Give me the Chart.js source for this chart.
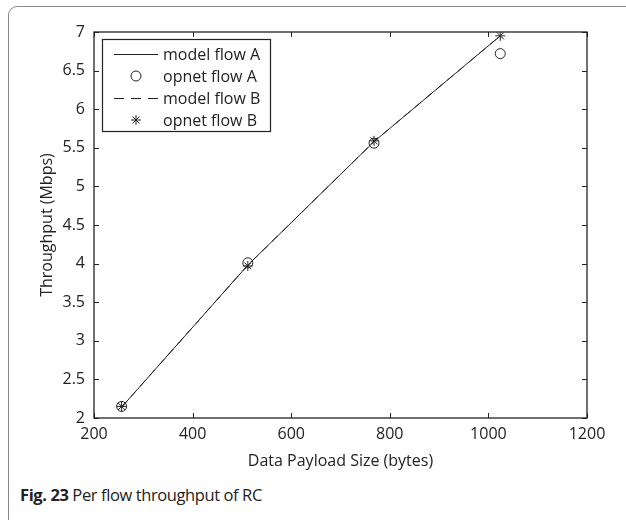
<!DOCTYPE html>
<html>
<head>
<meta charset="utf-8">
<script src="https://cdn.jsdelivr.net/npm/chart.js@4"></script>
<style>
  html, body { margin: 0; padding: 0; background: #fff; overflow: hidden; width: 626px; height: 520px; }
  #frame { position: absolute; left: 8px; top: 6px; width: 700px; height: 600px; border: 1.5px solid #8a8a8a; border-radius: 9px; z-index: 10; pointer-events: none; box-sizing: border-box; }
  #wrap { position: absolute; left: 0; top: 0; width: 626px; height: 475px; }
  #cap { position: absolute; left: 20px; top: 483px; font-family: "Open Sans", sans-serif; font-size: 16.5px; color: #222; letter-spacing: -0.4px; }
  #cap b { font-weight: 700; }
</style>
</head>
<body>
<div id="wrap"><canvas id="c" width="626" height="475"></canvas></div>
<div id="cap"><b>Fig. 23</b> Per flow throughput of RC</div>
<div id="frame"></div>
<script>
const payload = [256, 512, 768, 1024];
const modelA = [2.14, 3.98, 5.58, 6.95];
const opnetA = [2.15, 4.01, 5.56, 6.72];
const modelB = [2.14, 3.98, 5.58, 6.95];
const opnetB = [2.15, 3.97, 5.59, 6.95];
const xTicks = [200, 400, 600, 800, 1000, 1200];
const yTicks = [2, 2.5, 3, 3.5, 4, 4.5, 5, 5.5, 6, 6.5, 7];
const legendLabels = ['model flow A', 'opnet flow A', 'model flow B', 'opnet flow B'];

const FONT = '"Open Sans", sans-serif';
const pts = (arr) => payload.map((x, i) => ({x, y: arr[i]}));

const boxTicks = {
  id: 'boxTicks',
  afterDraw(chart) {
    const ctx = chart.ctx, a = chart.chartArea;
    const xs = chart.scales.x, ys = chart.scales.y;
    ctx.save();
    ctx.strokeStyle = '#222';
    ctx.lineWidth = 1.3;
    ctx.strokeRect(a.left, a.top, a.right - a.left, a.bottom - a.top);
    ctx.lineWidth = 1;
    const L = 5;
    xTicks.forEach(v => {
      const p = Math.round(xs.getPixelForValue(v)) + 0.5;
      ctx.beginPath();
      ctx.moveTo(p, a.bottom); ctx.lineTo(p, a.bottom - L);
      ctx.moveTo(p, a.top); ctx.lineTo(p, a.top + L);
      ctx.stroke();
    });
    yTicks.forEach(v => {
      const p = Math.round(ys.getPixelForValue(v)) + 0.5;
      ctx.beginPath();
      ctx.moveTo(a.left, p); ctx.lineTo(a.left + L, p);
      ctx.moveTo(a.right, p); ctx.lineTo(a.right - L, p);
      ctx.stroke();
    });
    // legend
    const lx = a.left + 8, ly = a.top + 7, lw = 168, lh = 92;
    ctx.fillStyle = '#fff';
    ctx.fillRect(lx, ly, lw, lh);
    ctx.strokeStyle = '#222';
    ctx.lineWidth = 1.2;
    ctx.strokeRect(lx + 0.5, ly + 0.5, lw, lh);
    ctx.font = '16px ' + FONT;
    ctx.textBaseline = 'middle';
    ctx.textAlign = 'left';
    chart.data.datasets.forEach((ds, i) => {
      const cy = ly + 15 + i * 22;
      const x0 = lx + 12, x1 = lx + 56;
      ctx.strokeStyle = '#222';
      if (ds.showLine) {
        ctx.lineWidth = 1;
        ctx.setLineDash(ds.borderDash ? [10, 7] : []);
        ctx.beginPath(); ctx.moveTo(x0, cy + 0.5); ctx.lineTo(x1, cy + 0.5); ctx.stroke();
        ctx.setLineDash([]);
      } else {
        ctx.fillStyle = ds.backgroundColor;
        ctx.lineWidth = 1;
        Chart.helpers.drawPoint(ctx, {pointStyle: ds.pointStyle, radius: ds.pointRadius, borderWidth: 1, rotation: 0}, (x0 + x1) / 2, cy);
      }
      ctx.fillStyle = '#222';
      ctx.fillText(legendLabels[i], x1 + 5, cy + 1);
    });
    ctx.restore();
  }
};

new Chart(document.getElementById('c'), {
  type: 'scatter',
  data: {
    datasets: [
      { label: legendLabels[0], data: pts(modelA), showLine: true, borderColor: '#222', borderWidth: 1, pointRadius: 0, fill: false },
      { label: legendLabels[1], data: pts(opnetA), showLine: false, pointStyle: 'circle', pointRadius: 5, borderColor: '#222', backgroundColor: 'rgba(0,0,0,0)', pointBorderWidth: 1 },
      { label: legendLabels[2], data: pts(modelB), showLine: true, borderDash: [8, 6], borderColor: '#222', borderWidth: 1, pointRadius: 0, fill: false },
      { label: legendLabels[3], data: pts(opnetB), showLine: false, pointStyle: 'star', pointRadius: 5, borderColor: '#222', backgroundColor: '#222', pointBorderWidth: 1 }
    ]
  },
  options: {
    responsive: false,
    animation: false,
    layout: { padding: { top: 32, right: 39, left: 34, bottom: 0 } },
    plugins: { legend: { display: false }, tooltip: { enabled: false } },
    scales: {
      x: {
        type: 'linear', min: 200, max: 1200,
        afterBuildTicks: (s) => { s.ticks = xTicks.map(v => ({value: v})); },
        afterFit: (s) => { s.height = 57; },
        grid: { display: false, drawTicks: false },
        border: { display: false },
        ticks: { color: '#222', font: { family: FONT, size: 16 }, padding: 7, maxRotation: 0, callback: (v) => String(v) },
        title: { display: true, text: 'Data Payload Size (bytes)', color: '#222', font: { family: FONT, size: 16 }, padding: { top: 6 } }
      },
      y: {
        type: 'linear', min: 2, max: 7,
        afterBuildTicks: (s) => { s.ticks = yTicks.map(v => ({value: v})); },
        afterFit: (s) => { s.width = 60; },
        grid: { display: false, drawTicks: false },
        border: { display: false },
        ticks: { color: '#222', font: { family: FONT, size: 16 }, padding: 9, callback: (v) => String(v) },
        title: { display: true, text: 'Throughput (Mbps)', color: '#222', font: { family: FONT, size: 16 }, padding: { bottom: 0 } }
      }
    }
  },
  plugins: [boxTicks]
});
</script>
</body>
</html>
